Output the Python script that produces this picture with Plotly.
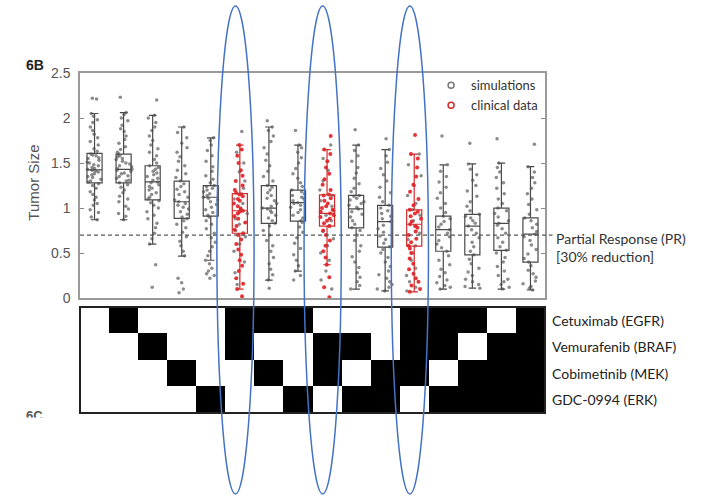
import plotly.graph_objects as go

# ---------------- data ----------------
n_groups = 16
clin_cols = [5, 8, 11]

q1 = [1.28, 1.28, 1.09, 0.885, 0.91, 0.72, 0.83, 0.855, 0.80, 0.78, 0.565, 0.577, 0.52, 0.48, 0.53, 0.40]
med = [1.425, 1.43, 1.29, 1.07, 1.12, 0.97, 1.0, 1.06, 0.94, 0.99, 0.85, 0.82, 0.76, 0.80, 0.83, 0.71]
q3 = [1.607, 1.6, 1.47, 1.30, 1.25, 1.16, 1.25, 1.2, 1.146, 1.14, 1.03, 0.98, 0.91, 0.93, 1.0, 0.89]
lo = [0.87, 0.87, 0.6, 0.465, 0.42, 0.1, 0.2, 0.3, 0.37, 0.1, 0.08, 0.07, 0.1, 0.11, 0.1, 0.09]
hi = [2.05, 2.06, 2.03, 1.9, 1.78, 1.7, 1.9, 1.7, 1.65, 1.7, 1.65, 1.6, 1.48, 1.49, 1.5, 1.46]

sim_points = [
    [0.87, 0.9, 0.95, 0.98, 1.03, 1.05, 1.09, 1.12, 1.15, 1.18, 1.22, 1.25, 1.27, 1.29, 1.3, 1.32, 1.34, 1.35, 1.37, 1.38, 1.4, 1.41, 1.42, 1.43, 1.44, 1.45, 1.47, 1.48, 1.5, 1.51, 1.53, 1.55, 1.56, 1.58, 1.59, 1.6, 1.63, 1.66, 1.7, 1.74, 1.78, 1.82, 1.86, 1.9, 1.95, 1.98, 2.02, 2.05, 2.21, 2.22],
    [0.87, 0.91, 0.94, 0.99, 1.02, 1.07, 1.1, 1.13, 1.17, 1.2, 1.23, 1.26, 1.28, 1.3, 1.31, 1.33, 1.35, 1.36, 1.38, 1.39, 1.41, 1.42, 1.43, 1.44, 1.46, 1.47, 1.49, 1.5, 1.52, 1.54, 1.55, 1.57, 1.58, 1.6, 1.62, 1.65, 1.68, 1.72, 1.76, 1.8, 1.85, 1.88, 1.92, 1.97, 2.0, 2.04, 2.06, 2.23],
    [0.12, 0.37, 0.6, 0.66, 0.72, 0.78, 0.83, 0.88, 0.92, 0.96, 1.0, 1.03, 1.06, 1.08, 1.1, 1.12, 1.15, 1.17, 1.2, 1.22, 1.24, 1.26, 1.28, 1.29, 1.31, 1.33, 1.35, 1.37, 1.39, 1.41, 1.43, 1.45, 1.47, 1.5, 1.54, 1.58, 1.62, 1.66, 1.7, 1.75, 1.8, 1.86, 1.9, 1.95, 2.0, 2.03, 2.2],
    [0.06, 0.1, 0.17, 0.22, 0.47, 0.52, 0.58, 0.63, 0.68, 0.73, 0.78, 0.82, 0.86, 0.88, 0.9, 0.93, 0.96, 0.99, 1.01, 1.03, 1.05, 1.07, 1.09, 1.12, 1.15, 1.18, 1.21, 1.24, 1.27, 1.3, 1.34, 1.38, 1.42, 1.47, 1.52, 1.57, 1.62, 1.67, 1.72, 1.78, 1.84, 1.9],
    [0.22, 0.25, 0.27, 0.3, 0.33, 0.38, 0.42, 0.47, 0.52, 0.57, 0.62, 0.67, 0.72, 0.77, 0.82, 0.86, 0.9, 0.92, 0.95, 0.98, 1.01, 1.04, 1.07, 1.09, 1.11, 1.12, 1.14, 1.16, 1.18, 1.2, 1.22, 1.24, 1.25, 1.28, 1.32, 1.36, 1.41, 1.46, 1.52, 1.58, 1.64, 1.7, 1.75, 1.78],
    [0.15, 0.28, 0.4, 0.52, 0.6, 0.68, 0.75, 0.82, 0.88, 0.94, 1.0, 1.05, 1.1, 1.16, 1.22, 1.3, 1.4, 1.5, 1.62, 1.85],
    [0.11, 0.2, 0.26, 0.32, 0.38, 0.45, 0.52, 0.58, 0.64, 0.7, 0.75, 0.8, 0.83, 0.86, 0.89, 0.92, 0.95, 0.97, 0.99, 1.0, 1.02, 1.05, 1.08, 1.11, 1.14, 1.17, 1.2, 1.23, 1.25, 1.3, 1.35, 1.41, 1.47, 1.53, 1.6, 1.67, 1.74, 1.8, 1.86, 1.9, 1.97],
    [0.2, 0.25, 0.3, 0.36, 0.42, 0.48, 0.55, 0.61, 0.67, 0.73, 0.79, 0.84, 0.86, 0.89, 0.92, 0.95, 0.98, 1.01, 1.03, 1.05, 1.06, 1.08, 1.1, 1.12, 1.14, 1.16, 1.18, 1.2, 1.24, 1.28, 1.33, 1.38, 1.44, 1.5, 1.56, 1.62, 1.67, 1.7, 1.86],
    [0.1, 0.2, 0.3, 0.42, 0.5, 0.58, 0.66, 0.74, 0.8, 0.86, 0.92, 0.97, 1.02, 1.08, 1.14, 1.2, 1.3, 1.42, 1.55, 1.7],
    [0.1, 0.14, 0.18, 0.23, 0.28, 0.34, 0.4, 0.46, 0.52, 0.58, 0.64, 0.7, 0.75, 0.78, 0.82, 0.86, 0.9, 0.93, 0.96, 0.99, 1.01, 1.03, 1.05, 1.07, 1.09, 1.11, 1.13, 1.14, 1.18, 1.22, 1.27, 1.33, 1.39, 1.45, 1.52, 1.58, 1.64, 1.7, 1.87],
    [0.08, 0.1, 0.12, 0.15, 0.18, 0.22, 0.26, 0.3, 0.35, 0.4, 0.45, 0.5, 0.54, 0.57, 0.61, 0.65, 0.69, 0.73, 0.77, 0.81, 0.85, 0.88, 0.91, 0.94, 0.97, 1.0, 1.03, 1.07, 1.12, 1.17, 1.23, 1.3, 1.37, 1.44, 1.51, 1.58, 1.65, 1.77],
    [0.08, 0.12, 0.18, 0.25, 0.33, 0.42, 0.5, 0.58, 0.65, 0.72, 0.8, 0.86, 0.92, 0.98, 1.05, 1.14, 1.25, 1.36, 1.48, 1.6],
    [0.1, 0.12, 0.14, 0.17, 0.2, 0.24, 0.28, 0.32, 0.37, 0.42, 0.47, 0.52, 0.56, 0.6, 0.64, 0.68, 0.72, 0.76, 0.79, 0.82, 0.85, 0.88, 0.91, 0.95, 1.0, 1.05, 1.11, 1.17, 1.23, 1.29, 1.35, 1.41, 1.48, 1.8],
    [0.11, 0.13, 0.15, 0.18, 0.21, 0.25, 0.29, 0.33, 0.38, 0.43, 0.48, 0.52, 0.57, 0.62, 0.67, 0.72, 0.76, 0.8, 0.83, 0.86, 0.89, 0.91, 0.93, 0.97, 1.02, 1.07, 1.13, 1.19, 1.25, 1.31, 1.37, 1.43, 1.49, 1.72],
    [0.1, 0.12, 0.15, 0.18, 0.21, 0.25, 0.3, 0.35, 0.4, 0.45, 0.5, 0.53, 0.57, 0.62, 0.67, 0.72, 0.77, 0.81, 0.83, 0.86, 0.9, 0.94, 0.97, 1.0, 1.05, 1.1, 1.16, 1.22, 1.28, 1.34, 1.4, 1.45, 1.5, 1.77],
    [0.09, 0.11, 0.13, 0.16, 0.19, 0.23, 0.27, 0.31, 0.36, 0.4, 0.44, 0.49, 0.54, 0.59, 0.64, 0.68, 0.71, 0.74, 0.78, 0.82, 0.86, 0.89, 0.93, 0.98, 1.04, 1.1, 1.16, 1.22, 1.28, 1.34, 1.4, 1.46, 1.71],
]

clin_points = [
    [0.02, 0.1, 0.16, 0.22, 0.3, 0.36, 0.42, 0.48, 0.54, 0.6, 0.65, 0.7, 0.72, 0.76, 0.8, 0.84, 0.88, 0.91, 0.94, 0.96, 0.97, 0.99, 1.02, 1.05, 1.08, 1.1, 1.13, 1.15, 1.17, 1.2, 1.25, 1.3, 1.36, 1.42, 1.5, 1.58, 1.65, 1.7],
    [0.01, 0.12, 0.23, 0.37, 0.45, 0.52, 0.58, 0.64, 0.7, 0.75, 0.8, 0.83, 0.86, 0.88, 0.9, 0.92, 0.94, 0.96, 0.98, 1.0, 1.02, 1.05, 1.08, 1.11, 1.14, 1.15, 1.2, 1.26, 1.32, 1.38, 1.45, 1.52, 1.6, 1.65, 1.8],
    [0.07, 0.1, 0.14, 0.18, 0.22, 0.27, 0.32, 0.38, 0.44, 0.5, 0.55, 0.58, 0.62, 0.66, 0.7, 0.74, 0.78, 0.8, 0.82, 0.85, 0.88, 0.91, 0.94, 0.96, 0.98, 1.03, 1.1, 1.18, 1.26, 1.35, 1.45, 1.55, 1.6, 1.81],
]

pr_threshold = 0.7
drug_names = ["Cetuximab (EGFR)", "Vemurafenib (BRAF)", "Cobimetinib (MEK)", "GDC-0994 (ERK)"]
combo_cetuximab = [0, 1, 0, 0, 0, 1, 1, 1, 0, 0, 0, 1, 1, 1, 0, 1]
combo_vemurafenib = [0, 0, 1, 0, 0, 1, 0, 0, 1, 1, 0, 1, 1, 0, 1, 1]
combo_cobimetinib = [0, 0, 0, 1, 0, 0, 1, 0, 1, 0, 1, 1, 0, 1, 1, 1]
combo_gdc0994 = [0, 0, 0, 0, 1, 0, 0, 1, 0, 1, 1, 0, 1, 1, 1, 1]
y_ticks = [0, 0.5, 1, 1.5, 2, 2.5]
y_tick_labels = ["0", "0.5", "1", "1.5", "2", "2.5"]

# ---------------- figure ----------------
GRAY_PT = "rgba(100,100,100,0.75)"
RED_PT = "rgba(225,30,35,0.9)"
fig = go.Figure()

# simulation points
sx, sy = [], []
for i, pts in enumerate(sim_points):
    sx += [i] * len(pts)
    sy += pts
fig.add_trace(go.Box(x=sx, y=sy, boxpoints="all", jitter=1.0, pointpos=0, width=0.58,
                     line=dict(width=0), fillcolor="rgba(0,0,0,0)",
                     marker=dict(size=3.5, color=GRAY_PT), showlegend=False, hoverinfo="y"))
# clinical points
cx, cy = [], []
for c, pts in zip(clin_cols, clin_points):
    cx += [c] * len(pts)
    cy += pts
fig.add_trace(go.Box(x=cx, y=cy, boxpoints="all", jitter=0.9, pointpos=0, width=0.55,
                     line=dict(width=0), fillcolor="rgba(0,0,0,0)",
                     marker=dict(size=4, color=RED_PT), showlegend=False, hoverinfo="y"))

# box outlines from precomputed stats
def stats_box(idx, color):
    return go.Box(x=idx, q1=[q1[i] for i in idx], median=[med[i] for i in idx],
                  q3=[q3[i] for i in idx], lowerfence=[lo[i] for i in idx],
                  upperfence=[hi[i] for i in idx], width=0.52, whiskerwidth=0.5,
                  boxpoints=False, line=dict(color=color, width=1.2),
                  fillcolor="rgba(0,0,0,0)", showlegend=False)

gray_idx = [i for i in range(n_groups) if i not in clin_cols]
fig.add_trace(stats_box(gray_idx, "#4a4a4a"))
fig.add_trace(stats_box(clin_cols, "#d42a2a"))

# legend entries
fig.add_trace(go.Scatter(x=[None], y=[None], mode="markers", name="simulations",
                         marker=dict(symbol="circle-open", size=6, color="#777", line=dict(width=1.5))))
fig.add_trace(go.Scatter(x=[None], y=[None], mode="markers", name="clinical data",
                         marker=dict(symbol="circle-open", size=6, color="#d42a2a", line=dict(width=1.5))))

# combination heatmap
z = [combo_cetuximab, combo_vemurafenib, combo_cobimetinib, combo_gdc0994]
fig.add_trace(go.Heatmap(z=z, x=list(range(n_groups)), y=list(range(4)), xaxis="x2", yaxis="y2",
                         colorscale=[[0, "white"], [1, "black"]], zmin=0, zmax=1,
                         showscale=False, hoverinfo="skip"))

fig.update_layout(
    width=707, height=496,
    margin=dict(l=80, r=162, t=73, b=83),
    plot_bgcolor="white", paper_bgcolor="white",
    boxmode="overlay",
    font=dict(family="Liberation Sans, Arial, sans-serif", color="#444"),
    xaxis=dict(domain=[0, 1], range=[-0.5, 15.5], showticklabels=False, ticks="",
               showgrid=False, zeroline=False, showline=True, mirror=True,
               linecolor="#9a9a9a", linewidth=1.5, anchor="y"),
    yaxis=dict(domain=[0.338, 1.0], range=[0, 2.5], tickvals=y_ticks, ticktext=y_tick_labels,
               ticks="inside", ticklen=4, tickcolor="#888", showgrid=False, zeroline=False,
               showline=True, mirror="ticks", linecolor="#9a9a9a", linewidth=1.5,
               tickfont=dict(size=14, color="#555"), ticklabelstandoff=5),
    xaxis2=dict(domain=[0, 1], range=[-0.5, 15.5], visible=False, anchor="y2"),
    yaxis2=dict(domain=[0, 0.312], range=[3.5, -0.5], visible=False, anchor="x2"),
    legend=dict(x=0.755, y=1.008, xanchor="left", yanchor="top", bgcolor="rgba(0,0,0,0)",
                font=dict(family="Lato, Open Sans, sans-serif", size=13, color="#333"),
                itemwidth=30, tracegroupgap=0),
    showlegend=True,
)

shapes = []
# PR threshold line
shapes.append(dict(type="line", xref="paper", yref="y", x0=0, x1=1.016, y0=pr_threshold, y1=pr_threshold,
                   line=dict(color="#555", width=1.2, dash="4px,3px")))
# heatmap border
shapes.append(dict(type="rect", xref="x2 domain", yref="y2 domain", x0=0, x1=1, y0=0, y1=1,
                   line=dict(color="#222", width=2)))
# highlight ellipses around clinical columns
for c in clin_cols:
    shapes.append(dict(type="circle", xref="x", yref="paper", x0=c - 0.15 - 0.64, x1=c - 0.15 + 0.64,
                       y0=-0.238, y1=1.197, line=dict(color="#4472c4", width=1.5), layer="above"))
fig.update_layout(shapes=shapes)

annotations = []
annotations.append(dict(text="Tumor Size", xref="paper", yref="paper", x=-0.1, y=0.676,
                        xanchor="center", yanchor="middle",
                        textangle=-90, showarrow=False, font=dict(size=15, color="#555")))
annotations.append(dict(text="<b>6B</b>", xref="paper", yref="paper", x=-0.097, y=1.0235,
                        xanchor="center", yanchor="middle", showarrow=False,
                        font=dict(size=14, color="#222")))
annotations.append(dict(text="Partial Response (PR)", xref="paper", yref="paper", x=1.02, y=(413 - 238) / 340,
                        xanchor="left", yanchor="middle", showarrow=False,
                        font=dict(family="Lato, Open Sans, sans-serif", size=14, color="#333")))
annotations.append(dict(text="[30% reduction]", xref="paper", yref="paper", x=1.02, y=(413 - 256) / 340,
                        xanchor="left", yanchor="middle", showarrow=False,
                        font=dict(family="Lato, Open Sans, sans-serif", size=14, color="#333")))
for r, name in enumerate(drug_names):
    annotations.append(dict(text=name, xref="paper", yref="y2", x=1.01, y=r,
                            xanchor="left", yanchor="middle", showarrow=False,
                            font=dict(family="Lato, Open Sans, sans-serif", size=14, color="#222")))
annotations.append(dict(text="<b>6C</b>", xref="paper", yref="paper", x=-0.097, y=(413 - 415) / 340,
                        xanchor="center", yanchor="middle", showarrow=False,
                        font=dict(size=13, color="#555")))
annotations.append(dict(text=" ", xref="paper", yref="paper", x=-0.097, y=(413 - 416.5) / 340,
                        xanchor="center", yanchor="top", showarrow=False, width=40, height=20,
                        bgcolor="white", borderpad=0))
fig.update_layout(annotations=annotations)

fig.write_html("out.html")
